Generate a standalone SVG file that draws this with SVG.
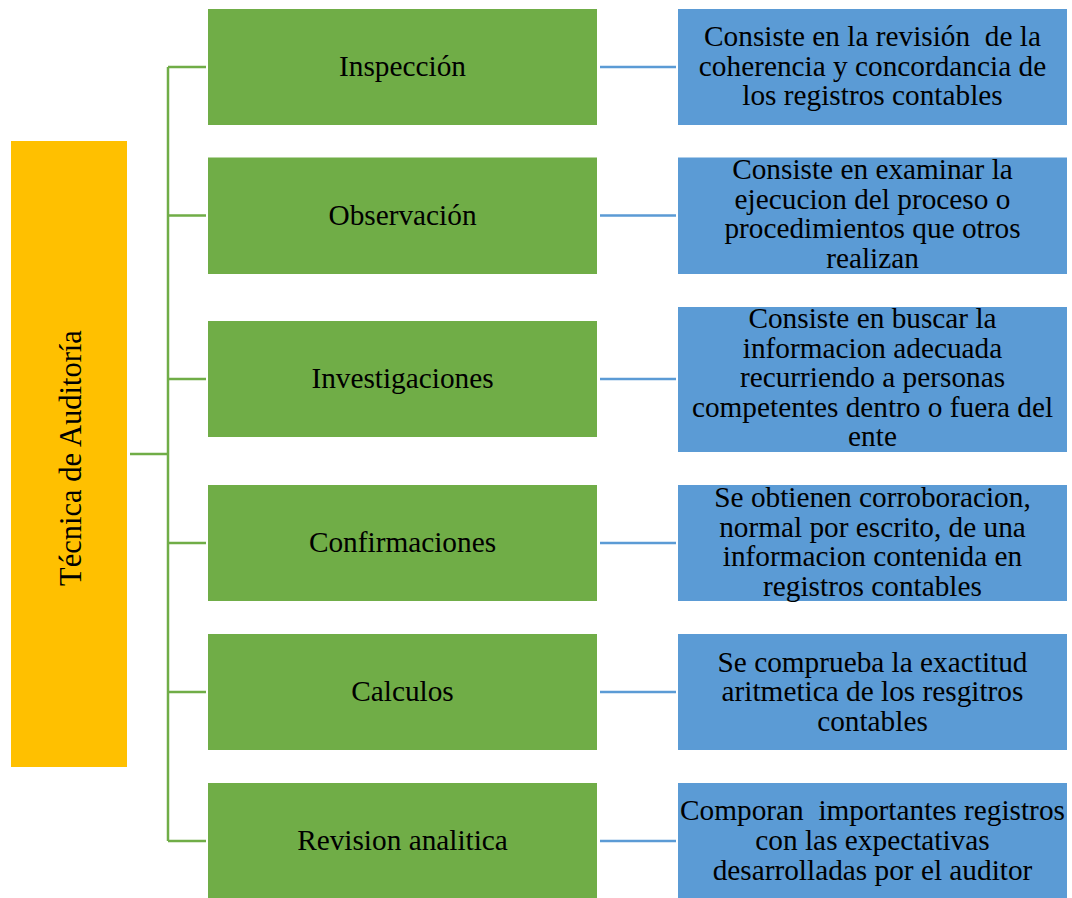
<svg xmlns="http://www.w3.org/2000/svg" width="1072" height="898" viewBox="0 0 1072 898">
  <style>
    .root { fill: #FFC000; }
    .tech { fill: #70AD47; }
    .desc { fill: #5B9BD5; }
    text { font-family: "Liberation Serif", "Times New Roman", serif; font-size: 29.3px; fill: #000; text-anchor: middle; white-space: pre; }
    .vert { font-size: 30.5px; }
    .g { stroke: #70AD47; stroke-width: 2.5; fill: none; }
    .b { stroke: #5B9BD5; stroke-width: 2.5; fill: none; }
  </style>
  <rect width="1072" height="898" fill="#fff"/>

  <!-- connectors -->
  <g id="connectors">
    <path class="g" d="M130 454H168M168 67V841M168 67H206M168 215.5H206M168 379H206M168 543H206M168 692H206M168 841H206"/>
    <path class="b" d="M600 67H676M600 215.5H676M600 379H676M600 543H676M600 692H676M600 841H676"/>
  </g>

  <!-- root -->
  <g id="root">
    <rect class="root" x="11" y="141" width="116" height="626"/>
    <text class="vert" transform="translate(81 458) rotate(-90)">Técnica de Auditoría</text>
  </g>

  <!-- techniques -->
  <g id="inspeccion">
    <rect class="tech" x="208" y="9" width="389" height="116"/>
    <text x="402.5" y="76">Inspección</text>
  </g>
  <g id="observacion">
    <rect class="tech" x="208" y="157.5" width="389" height="116.5"/>
    <text x="402.5" y="225">Observación</text>
  </g>
  <g id="investigaciones">
    <rect class="tech" x="208" y="321" width="389" height="116"/>
    <text x="402.5" y="388">Investigaciones</text>
  </g>
  <g id="confirmaciones">
    <rect class="tech" x="208" y="485" width="389" height="116"/>
    <text x="402.5" y="552">Confirmaciones</text>
  </g>
  <g id="calculos">
    <rect class="tech" x="208" y="634" width="389" height="116"/>
    <text x="402.5" y="701">Calculos</text>
  </g>
  <g id="revision">
    <rect class="tech" x="208" y="783" width="389" height="117"/>
    <text x="402.5" y="850">Revision analitica</text>
  </g>

  <!-- descriptions -->
  <g id="desc-inspeccion">
    <rect class="desc" x="678" y="9" width="389" height="116"/>
    <text x="872.5" y="46">Consiste en la revisión  de la</text>
    <text x="872.5" y="75.5">coherencia y concordancia de</text>
    <text x="872.5" y="105">los registros contables</text>
  </g>
  <g id="desc-observacion">
    <rect class="desc" x="678" y="157.5" width="389" height="116.5"/>
    <text x="872.5" y="179">Consiste en examinar la</text>
    <text x="872.5" y="208.5">ejecucion del proceso o</text>
    <text x="872.5" y="238">procedimientos que otros</text>
    <text x="872.5" y="267.5">realizan</text>
  </g>
  <g id="desc-investigaciones">
    <rect class="desc" x="678" y="307" width="389" height="145"/>
    <text x="872.5" y="328">Consiste en buscar la</text>
    <text x="872.5" y="357.5">informacion adecuada</text>
    <text x="872.5" y="387">recurriendo a personas</text>
    <text x="872.5" y="416.5">competentes dentro o fuera del</text>
    <text x="872.5" y="446">ente</text>
  </g>
  <g id="desc-confirmaciones">
    <rect class="desc" x="678" y="485" width="389" height="116"/>
    <text x="872.5" y="507">Se obtienen corroboracion,</text>
    <text x="872.5" y="536.5">normal por escrito, de una</text>
    <text x="872.5" y="566">informacion contenida en</text>
    <text x="872.5" y="595.5">registros contables</text>
  </g>
  <g id="desc-calculos">
    <rect class="desc" x="678" y="634" width="389" height="116"/>
    <text x="872.5" y="671.5">Se comprueba la exactitud</text>
    <text x="872.5" y="701">aritmetica de los resgitros</text>
    <text x="872.5" y="730.5">contables</text>
  </g>
  <g id="desc-revision">
    <rect class="desc" x="678" y="783" width="389" height="117"/>
    <text x="872.5" y="820">Comporan  importantes registros</text>
    <text x="872.5" y="850">con las expectativas</text>
    <text x="872.5" y="880">desarrolladas por el auditor</text>
  </g>
</svg>
